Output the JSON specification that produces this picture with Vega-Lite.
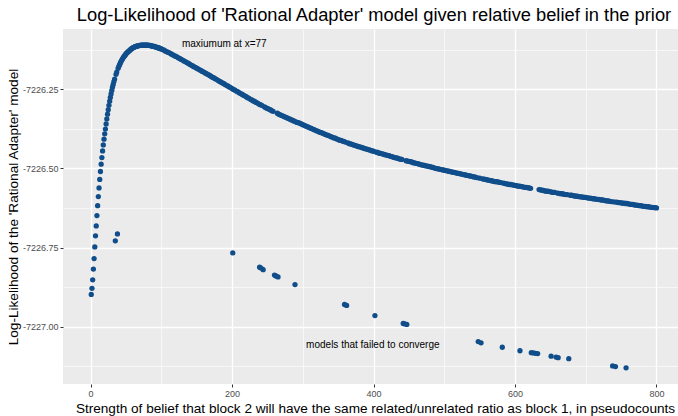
{
"$schema": "https://vega.github.io/schema/vega-lite/v6.json",
"width": 615, "height": 355,
"autosize": {"type": "none"},
"padding": {"left": 63, "top": 29, "right": 0, "bottom": 32},
"background": "white",
"config": {"view": {"fill": "#EBEBEB", "stroke": null}, "font": "Liberation Sans", "axis": {"domain": false}},
"title": {"text": "Log-Likelihood of 'Rational Adapter' model given relative belief in the prior", "font": "Liberation Sans", "fontSize": 18.3, "fontWeight": "normal", "color": "black", "anchor": "middle", "dx": 3.5, "offset": 4},
"datasets": {
"notes": [
{"x": 189, "y": -7226.1065, "label": "maxiumum at x=77"},
{"x": 399, "y": -7227.057, "label": "models that failed to converge"}
],
"pts": [
{"x":1,"y":-7226.898},{"x":2,"y":-7226.879},{"x":3,"y":-7226.852},{"x":4,"y":-7226.818},{"x":5,"y":-7226.785},{"x":6,"y":-7226.748},{"x":7,"y":-7226.713},{"x":8,"y":-7226.682},{"x":9,"y":-7226.649},{"x":10,"y":-7226.618},
{"x":11,"y":-7226.589},{"x":12,"y":-7226.562},{"x":13,"y":-7226.535},{"x":14,"y":-7226.510},{"x":15,"y":-7226.487},{"x":16,"y":-7226.466},{"x":17,"y":-7226.445},{"x":18,"y":-7226.426},{"x":19,"y":-7226.408},{"x":20,"y":-7226.391},
{"x":21,"y":-7226.376},{"x":22,"y":-7226.360},{"x":23,"y":-7226.344},{"x":24,"y":-7226.329},{"x":25,"y":-7226.315},{"x":26,"y":-7226.301},{"x":27,"y":-7226.288},{"x":28,"y":-7226.276},{"x":29,"y":-7226.265},{"x":30,"y":-7226.254},
{"x":31,"y":-7226.244},{"x":32,"y":-7226.235},{"x":33,"y":-7226.226},{"x":34,"y":-7226.218},{"x":35,"y":-7226.729},{"x":36,"y":-7226.203},{"x":37,"y":-7226.196},{"x":38,"y":-7226.707},{"x":39,"y":-7226.184},{"x":40,"y":-7226.178},
{"x":41,"y":-7226.173},{"x":42,"y":-7226.168},{"x":43,"y":-7226.163},{"x":44,"y":-7226.159},{"x":45,"y":-7226.155},{"x":46,"y":-7226.151},{"x":47,"y":-7226.148},{"x":48,"y":-7226.145},{"x":49,"y":-7226.142},{"x":50,"y":-7226.139},
{"x":51,"y":-7226.136},{"x":52,"y":-7226.134},{"x":53,"y":-7226.132},{"x":54,"y":-7226.130},{"x":55,"y":-7226.128},{"x":56,"y":-7226.126},{"x":57,"y":-7226.124},{"x":58,"y":-7226.122},{"x":59,"y":-7226.121},{"x":60,"y":-7226.119},
{"x":61,"y":-7226.118},{"x":62,"y":-7226.117},{"x":63,"y":-7226.116},{"x":64,"y":-7226.115},{"x":65,"y":-7226.114},{"x":66,"y":-7226.114},{"x":67,"y":-7226.113},{"x":68,"y":-7226.113},{"x":69,"y":-7226.112},{"x":70,"y":-7226.112},
{"x":71,"y":-7226.112},{"x":72,"y":-7226.111},{"x":73,"y":-7226.111},{"x":74,"y":-7226.111},{"x":75,"y":-7226.111},{"x":76,"y":-7226.111},{"x":77,"y":-7226.111},{"x":78,"y":-7226.111},{"x":79,"y":-7226.111},{"x":80,"y":-7226.111},
{"x":81,"y":-7226.111},{"x":82,"y":-7226.112},{"x":83,"y":-7226.112},{"x":84,"y":-7226.112},{"x":85,"y":-7226.113},{"x":86,"y":-7226.113},{"x":87,"y":-7226.114},{"x":88,"y":-7226.114},{"x":89,"y":-7226.115},{"x":90,"y":-7226.115},
{"x":91,"y":-7226.116},{"x":92,"y":-7226.117},{"x":93,"y":-7226.117},{"x":94,"y":-7226.118},{"x":95,"y":-7226.119},{"x":96,"y":-7226.120},{"x":97,"y":-7226.120},{"x":98,"y":-7226.121},{"x":99,"y":-7226.122},{"x":100,"y":-7226.123},
{"x":102,"y":-7226.125},{"x":104,"y":-7226.127},{"x":106,"y":-7226.130},{"x":108,"y":-7226.132},{"x":110,"y":-7226.134},{"x":112,"y":-7226.136},{"x":114,"y":-7226.139},{"x":116,"y":-7226.141},{"x":118,"y":-7226.144},{"x":120,"y":-7226.146},
{"x":122,"y":-7226.148},{"x":124,"y":-7226.151},{"x":126,"y":-7226.153},{"x":128,"y":-7226.156},{"x":130,"y":-7226.158},{"x":132,"y":-7226.161},{"x":134,"y":-7226.163},{"x":136,"y":-7226.166},{"x":138,"y":-7226.168},{"x":140,"y":-7226.171},
{"x":142,"y":-7226.174},{"x":144,"y":-7226.176},{"x":146,"y":-7226.179},{"x":148,"y":-7226.181},{"x":150,"y":-7226.184},{"x":152,"y":-7226.186},{"x":154,"y":-7226.189},{"x":156,"y":-7226.191},{"x":158,"y":-7226.194},{"x":160,"y":-7226.196},
{"x":162,"y":-7226.199},{"x":164,"y":-7226.201},{"x":166,"y":-7226.204},{"x":168,"y":-7226.206},{"x":170,"y":-7226.209},{"x":172,"y":-7226.212},{"x":174,"y":-7226.214},{"x":176,"y":-7226.217},{"x":178,"y":-7226.219},{"x":180,"y":-7226.222},
{"x":182,"y":-7226.225},{"x":184,"y":-7226.227},{"x":186,"y":-7226.230},{"x":188,"y":-7226.232},{"x":190,"y":-7226.235},{"x":192,"y":-7226.238},{"x":194,"y":-7226.240},{"x":196,"y":-7226.243},{"x":198,"y":-7226.245},{"x":200,"y":-7226.248},
{"x":201,"y":-7226.767},
{"x":202,"y":-7226.251},{"x":204,"y":-7226.253},{"x":206,"y":-7226.256},{"x":208,"y":-7226.258},{"x":210,"y":-7226.261},{"x":212,"y":-7226.264},{"x":214,"y":-7226.266},{"x":216,"y":-7226.269},{"x":218,"y":-7226.271},{"x":220,"y":-7226.274},
{"x":222,"y":-7226.277},{"x":224,"y":-7226.279},{"x":226,"y":-7226.282},{"x":228,"y":-7226.284},{"x":230,"y":-7226.287},{"x":232,"y":-7226.289},{"x":234,"y":-7226.292},{"x":236,"y":-7226.294},{"x":238,"y":-7226.297},{"x":240,"y":-7226.299},
{"x":239,"y":-7226.812},{"x":241,"y":-7226.815},{"x":244,"y":-7226.820},
{"x":242,"y":-7226.301},{"x":246,"y":-7226.306},{"x":248,"y":-7226.309},{"x":250,"y":-7226.311},{"x":252,"y":-7226.313},{"x":254,"y":-7226.315},{"x":256,"y":-7226.318},{"x":258,"y":-7226.320},
{"x":260,"y":-7226.837},{"x":262,"y":-7226.840},{"x":265,"y":-7226.843},
{"x":264,"y":-7226.326},{"x":266,"y":-7226.329},{"x":268,"y":-7226.331},{"x":270,"y":-7226.333},{"x":272,"y":-7226.335},{"x":274,"y":-7226.337},{"x":276,"y":-7226.339},{"x":278,"y":-7226.341},{"x":280,"y":-7226.343},
{"x":282,"y":-7226.345},{"x":284,"y":-7226.347},{"x":286,"y":-7226.349},{"x":288,"y":-7226.351},{"x":290,"y":-7226.353},{"x":292,"y":-7226.355},{"x":294,"y":-7226.356},{"x":296,"y":-7226.358},{"x":298,"y":-7226.360},{"x":300,"y":-7226.362},
{"x":289,"y":-7226.867},
{"x":302,"y":-7226.364},{"x":304,"y":-7226.366},{"x":306,"y":-7226.368},{"x":308,"y":-7226.370},{"x":310,"y":-7226.372},{"x":312,"y":-7226.374},{"x":314,"y":-7226.376},{"x":316,"y":-7226.378},{"x":318,"y":-7226.380},{"x":320,"y":-7226.382},
{"x":322,"y":-7226.384},{"x":324,"y":-7226.386},{"x":326,"y":-7226.387},{"x":328,"y":-7226.389},{"x":330,"y":-7226.391},{"x":332,"y":-7226.393},{"x":334,"y":-7226.395},{"x":336,"y":-7226.396},{"x":338,"y":-7226.398},{"x":340,"y":-7226.400},
{"x":342,"y":-7226.402},{"x":344,"y":-7226.404},{"x":346,"y":-7226.405},{"x":348,"y":-7226.407},{"x":350,"y":-7226.409},{"x":352,"y":-7226.411},{"x":354,"y":-7226.412},{"x":356,"y":-7226.414},{"x":358,"y":-7226.415},{"x":360,"y":-7226.417},
{"x":359,"y":-7226.930},{"x":362,"y":-7226.933},
{"x":364,"y":-7226.420},{"x":366,"y":-7226.422},{"x":368,"y":-7226.423},{"x":370,"y":-7226.425},{"x":372,"y":-7226.426},{"x":374,"y":-7226.428},{"x":376,"y":-7226.429},{"x":378,"y":-7226.431},{"x":380,"y":-7226.432},
{"x":382,"y":-7226.433},{"x":384,"y":-7226.435},{"x":386,"y":-7226.436},{"x":388,"y":-7226.438},{"x":390,"y":-7226.439},{"x":392,"y":-7226.440},{"x":394,"y":-7226.442},{"x":396,"y":-7226.443},{"x":398,"y":-7226.445},{"x":400,"y":-7226.446},
{"x":402,"y":-7226.965},
{"x":404,"y":-7226.449},{"x":406,"y":-7226.450},{"x":408,"y":-7226.452},{"x":410,"y":-7226.453},{"x":412,"y":-7226.454},{"x":414,"y":-7226.455},{"x":416,"y":-7226.457},{"x":418,"y":-7226.458},{"x":420,"y":-7226.459},
{"x":422,"y":-7226.460},{"x":424,"y":-7226.462},{"x":426,"y":-7226.463},{"x":428,"y":-7226.465},{"x":430,"y":-7226.466},{"x":432,"y":-7226.467},{"x":434,"y":-7226.468},{"x":436,"y":-7226.470},{"x":438,"y":-7226.471},{"x":440,"y":-7226.472},
{"x":442,"y":-7226.990},{"x":444,"y":-7226.991},{"x":447,"y":-7226.993},
{"x":446,"y":-7226.476},{"x":448,"y":-7226.477},{"x":450,"y":-7226.478},{"x":452,"y":-7226.479},{"x":454,"y":-7226.480},{"x":456,"y":-7226.482},{"x":458,"y":-7226.483},{"x":460,"y":-7226.484},
{"x":462,"y":-7226.485},{"x":464,"y":-7226.486},{"x":466,"y":-7226.488},{"x":468,"y":-7226.489},{"x":470,"y":-7226.490},{"x":472,"y":-7226.491},{"x":474,"y":-7226.492},{"x":476,"y":-7226.493},{"x":478,"y":-7226.494},{"x":480,"y":-7226.495},
{"x":482,"y":-7226.496},{"x":484,"y":-7226.497},{"x":486,"y":-7226.499},{"x":488,"y":-7226.500},{"x":490,"y":-7226.501},{"x":492,"y":-7226.502},{"x":494,"y":-7226.503},{"x":496,"y":-7226.504},{"x":498,"y":-7226.505},{"x":500,"y":-7226.506},
{"x":502,"y":-7226.507},{"x":504,"y":-7226.508},{"x":506,"y":-7226.509},{"x":508,"y":-7226.510},{"x":510,"y":-7226.511},{"x":512,"y":-7226.512},{"x":514,"y":-7226.513},{"x":516,"y":-7226.514},{"x":518,"y":-7226.515},{"x":520,"y":-7226.516},
{"x":522,"y":-7226.517},{"x":524,"y":-7226.518},{"x":526,"y":-7226.519},{"x":528,"y":-7226.520},{"x":530,"y":-7226.521},{"x":532,"y":-7226.522},{"x":534,"y":-7226.523},{"x":536,"y":-7226.524},{"x":538,"y":-7226.525},{"x":540,"y":-7226.526},
{"x":542,"y":-7226.527},{"x":544,"y":-7226.528},{"x":546,"y":-7226.529},{"x":550,"y":-7226.531},{"x":554,"y":-7226.533},{"x":556,"y":-7226.534},{"x":558,"y":-7226.535},{"x":560,"y":-7226.536},
{"x":548,"y":-7227.047},{"x":552,"y":-7227.051},
{"x":562,"y":-7226.537},{"x":564,"y":-7226.538},{"x":566,"y":-7226.539},{"x":568,"y":-7226.540},{"x":570,"y":-7226.541},{"x":572,"y":-7226.542},{"x":574,"y":-7226.542},{"x":576,"y":-7226.543},{"x":578,"y":-7226.544},{"x":580,"y":-7226.545},
{"x":582,"y":-7227.065},
{"x":584,"y":-7226.547},{"x":586,"y":-7226.548},{"x":588,"y":-7226.549},{"x":590,"y":-7226.550},{"x":592,"y":-7226.551},{"x":594,"y":-7226.551},{"x":596,"y":-7226.552},{"x":598,"y":-7226.553},{"x":600,"y":-7226.554},
{"x":602,"y":-7226.555},{"x":604,"y":-7226.556},{"x":606,"y":-7226.556},{"x":608,"y":-7226.557},{"x":610,"y":-7226.558},{"x":612,"y":-7226.559},{"x":614,"y":-7226.560},{"x":616,"y":-7226.560},{"x":618,"y":-7226.561},{"x":620,"y":-7226.562},
{"x":607,"y":-7227.076},
{"x":622,"y":-7226.563},
{"x":623,"y":-7227.082},{"x":626,"y":-7227.083},{"x":629,"y":-7227.084},{"x":632,"y":-7227.085},
{"x":634,"y":-7226.567},{"x":636,"y":-7226.568},{"x":638,"y":-7226.569},{"x":640,"y":-7226.570},{"x":642,"y":-7226.571},{"x":644,"y":-7226.572},{"x":646,"y":-7226.572},{"x":648,"y":-7226.573},{"x":650,"y":-7226.574},
{"x":651,"y":-7227.093},
{"x":652,"y":-7226.575},{"x":654,"y":-7226.576},{"x":656,"y":-7226.576},
{"x":658,"y":-7227.096},{"x":661,"y":-7227.098},
{"x":660,"y":-7226.578},{"x":662,"y":-7226.579},{"x":664,"y":-7226.580},{"x":666,"y":-7226.580},{"x":668,"y":-7226.581},{"x":670,"y":-7226.582},{"x":672,"y":-7226.583},{"x":674,"y":-7226.583},
{"x":676,"y":-7227.101},
{"x":678,"y":-7226.585},{"x":680,"y":-7226.585},{"x":682,"y":-7226.586},{"x":684,"y":-7226.587},{"x":686,"y":-7226.588},{"x":688,"y":-7226.588},{"x":690,"y":-7226.589},{"x":692,"y":-7226.590},{"x":694,"y":-7226.590},{"x":696,"y":-7226.591},
{"x":698,"y":-7226.592},{"x":700,"y":-7226.592},{"x":702,"y":-7226.593},{"x":704,"y":-7226.594},{"x":706,"y":-7226.594},{"x":708,"y":-7226.595},{"x":710,"y":-7226.596},{"x":712,"y":-7226.596},{"x":714,"y":-7226.597},{"x":716,"y":-7226.598},
{"x":718,"y":-7226.598},{"x":720,"y":-7226.599},{"x":722,"y":-7226.600},{"x":724,"y":-7226.600},{"x":726,"y":-7226.601},{"x":728,"y":-7226.602},{"x":730,"y":-7226.603},{"x":732,"y":-7226.603},{"x":734,"y":-7226.604},{"x":736,"y":-7226.605},
{"x":738,"y":-7227.124},{"x":742,"y":-7227.126},
{"x":740,"y":-7226.606},{"x":744,"y":-7226.607},{"x":746,"y":-7226.608},{"x":748,"y":-7226.608},{"x":750,"y":-7226.609},{"x":752,"y":-7226.610},{"x":754,"y":-7226.610},{"x":756,"y":-7226.611},{"x":758,"y":-7226.611},{"x":760,"y":-7226.612},
{"x":757,"y":-7227.130},
{"x":762,"y":-7226.613},{"x":764,"y":-7226.614},{"x":766,"y":-7226.614},{"x":768,"y":-7226.615},{"x":770,"y":-7226.616},{"x":772,"y":-7226.616},{"x":774,"y":-7226.617},{"x":776,"y":-7226.618},{"x":778,"y":-7226.618},{"x":780,"y":-7226.619},
{"x":782,"y":-7226.620},{"x":784,"y":-7226.620},{"x":786,"y":-7226.621},{"x":788,"y":-7226.621},{"x":790,"y":-7226.622},{"x":792,"y":-7226.623},{"x":794,"y":-7226.623},{"x":796,"y":-7226.624},{"x":798,"y":-7226.624},{"x":800,"y":-7226.625}
]
},
"layer": [
{
"data": {"name": "pts"},
"mark": {"type": "point", "filled": true, "color": "#104E8B", "size": 28, "opacity": 1, "strokeWidth": 0},
"encoding": {
"x": {"field": "x", "type": "quantitative",
 "scale": {"domain": [-38.95, 830.4], "nice": false, "zero": false},
 "axis": {"orient": "bottom", "values": [0,100,200,300,400,500,600,700,800],
  "labelExpr": "datum.value % 200 == 0 ? '' + datum.value : ''",
  "labelFontSize": 9, "labelColor": "#4D4D4D", "labelFont": "Liberation Sans", "labelPadding": 2,
  "ticks": true, "tickColor": "#333333", "tickSize": 3, "tickWidth": 1,
  "tickOpacity": {"condition": {"test": "datum.value % 200 == 0", "value": 1}, "value": 0},
  "grid": true, "gridColor": "white",
  "gridWidth": {"condition": {"test": "datum.value % 200 == 0", "value": 1.3}, "value": 0.6},
  "title": "Strength of belief that block 2 will have the same related/unrelated ratio as block 1, in pseudocounts",
  "titleFont": "Liberation Sans", "titleFontSize": 13.6, "titleFontWeight": "normal", "titleColor": "black",
  "titleX": 312, "titlePadding": 3}},
"y": {"field": "y", "type": "quantitative",
 "scale": {"domain": [-7227.181, -7226.06], "nice": false, "zero": false},
 "axis": {"orient": "left", "values": [-7227.125,-7227,-7226.875,-7226.75,-7226.625,-7226.5,-7226.375,-7226.25,-7226.125],
  "labelExpr": "abs(datum.value*4 - round(datum.value*4)) < 0.01 ? replace(format(datum.value, '.2f'), '\u2212', '-') : ''",
  "labelFontSize": 9, "labelColor": "#4D4D4D", "labelFont": "Liberation Sans", "labelPadding": 2,
  "ticks": true, "tickColor": "#333333", "tickSize": 3, "tickWidth": 1,
  "tickOpacity": {"condition": {"test": "abs(datum.value*4 - round(datum.value*4)) < 0.01", "value": 1}, "value": 0},
  "grid": true, "gridColor": "white",
  "gridWidth": {"condition": {"test": "abs(datum.value*4 - round(datum.value*4)) < 0.01", "value": 1.3}, "value": 0.6},
  "title": "Log-Likelihood of the 'Rational Adapter' model",
  "titleFont": "Liberation Sans", "titleFontSize": 13.6, "titleFontWeight": "normal", "titleColor": "black",
  "titlePadding": 2}}
}
},
{
"data": {"name": "notes"},
"mark": {"type": "text", "font": "Liberation Sans", "fontSize": 10, "color": "black", "align": "center", "baseline": "middle"},
"encoding": {
"x": {"field": "x", "type": "quantitative"},
"y": {"field": "y", "type": "quantitative"},
"text": {"field": "label", "type": "nominal"}
}
}
]
}
